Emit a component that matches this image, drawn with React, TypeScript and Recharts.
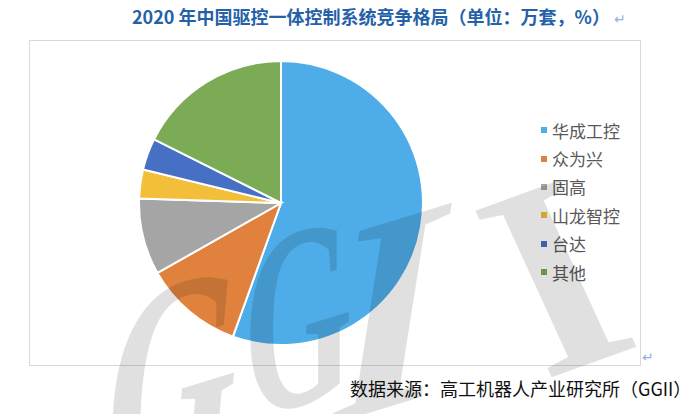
import { Legend, Pie, PieChart, Cell } from "recharts";

// 2020 年中国驱控一体控制系统竞争格局（单位：万套，%）
const companies = ["华成工控", "众为兴", "固高", "山龙智控", "台达", "其他"];
const shares = [55.5, 11.3, 8.7, 3.3, 3.6, 17.6];
const colors = ["#4EACE8", "#E0823D", "#A5A5A5", "#F3BF3A", "#4570C3", "#7CAB55"];

const TITLE = "2020 年中国驱控一体控制系统竞争格局（单位：万套，%）";
const SOURCE = "数据来源：高工机器人产业研究所（GGII）";

// watermark letters: glyph, font size, affine matrix (x axis, y axis, baseline centre)
const markLetters = ["G", "G", "I", "I"];
const markSizes = [300, 262, 300, 280];
const markMatrices = [
  "0.574 -0.175 -0.087 0.996 164 480",
  "0.535 -0.164 0 1 298 405",
  "0.956 -0.292 -0.156 0.988 375 411",
  "0.94 -0.34 0.416 0.909 594 362",
];

const data = companies.map((name, i) => ({ name, value: shares[i] }));

function LegendList() {
  return (
    <ul style={{ listStyle: "none", margin: 0, padding: 0 }}>
      {companies.map((name, i) => (
        <li
          key={name}
          style={{ display: "flex", alignItems: "center", height: 28.4, fontSize: 17, color: "#595959" }}
        >
          <span style={{ width: 6, height: 6, background: colors[i], marginRight: 5, display: "inline-block" }} />
          {name}
        </li>
      ))}
    </ul>
  );
}

export default function App() {
  return (
    <div
      style={{
        position: "absolute",
        left: 0,
        top: 0,
        width: 700,
        height: 414,
        background: "#fff",
        overflow: "hidden",
        fontFamily: "'Noto Sans CJK SC', 'Noto Sans', sans-serif",
      }}
    >
      <div
        style={{
          position: "absolute",
          left: 132,
          top: 4,
          fontSize: 18,
          fontWeight: 700,
          color: "#2461A8",
          whiteSpace: "nowrap",
          lineHeight: "24px",
        }}
      >
        {TITLE}
        <span style={{ color: "#8FB4DC", fontWeight: 400, fontSize: 14, marginLeft: 4 }}>↵</span>
      </div>
      <div
        style={{
          position: "absolute",
          left: 29,
          top: 40,
          width: 612,
          height: 326,
          border: "1.5px solid #D9D9D9",
          boxSizing: "border-box",
        }}
      />
      <div style={{ position: "absolute", left: 642, top: 346, color: "#8FB4DC", fontSize: 14 }}>↵</div>
      <div style={{ position: "absolute", left: 0, top: 0 }}>
        <PieChart width={700} height={414} margin={{ top: 0, right: 0, bottom: 0, left: 0 }}>
          <Pie
            data={data}
            dataKey="value"
            nameKey="name"
            cx={281}
            cy={203}
            outerRadius={142}
            startAngle={90}
            endAngle={-270}
            stroke="#fff"
            strokeWidth={2}
            isAnimationActive={false}
          >
            {data.map((d, i) => (
              <Cell key={d.name} fill={colors[i]} />
            ))}
          </Pie>
          <Legend
            layout="vertical"
            align="right"
            verticalAlign="top"
            wrapperStyle={{ left: 541, top: 116, width: 120 }}
            content={<LegendList />}
          />
        </PieChart>
      </div>
      <div
        style={{
          position: "absolute",
          left: 350,
          top: 376,
          fontSize: 18,
          color: "#111",
          whiteSpace: "nowrap",
          lineHeight: "24px",
        }}
      >
        {SOURCE}
      </div>
      <svg
        width={700}
        height={414}
        style={{ position: "absolute", left: 0, top: 0, pointerEvents: "none" }}
      >
        {markLetters.map((ch, i) => (
          <text
            key={i}
            x={0}
            y={0}
            transform={`matrix(${markMatrices[i]})`}
            textAnchor="middle"
            fontSize={markSizes[i]}
            fontWeight={700}
            fontFamily="'Liberation Serif', serif"
            fill="#000"
            fillOpacity={0.12}
          >
            {ch}
          </text>
        ))}
      </svg>
    </div>
  );
}
